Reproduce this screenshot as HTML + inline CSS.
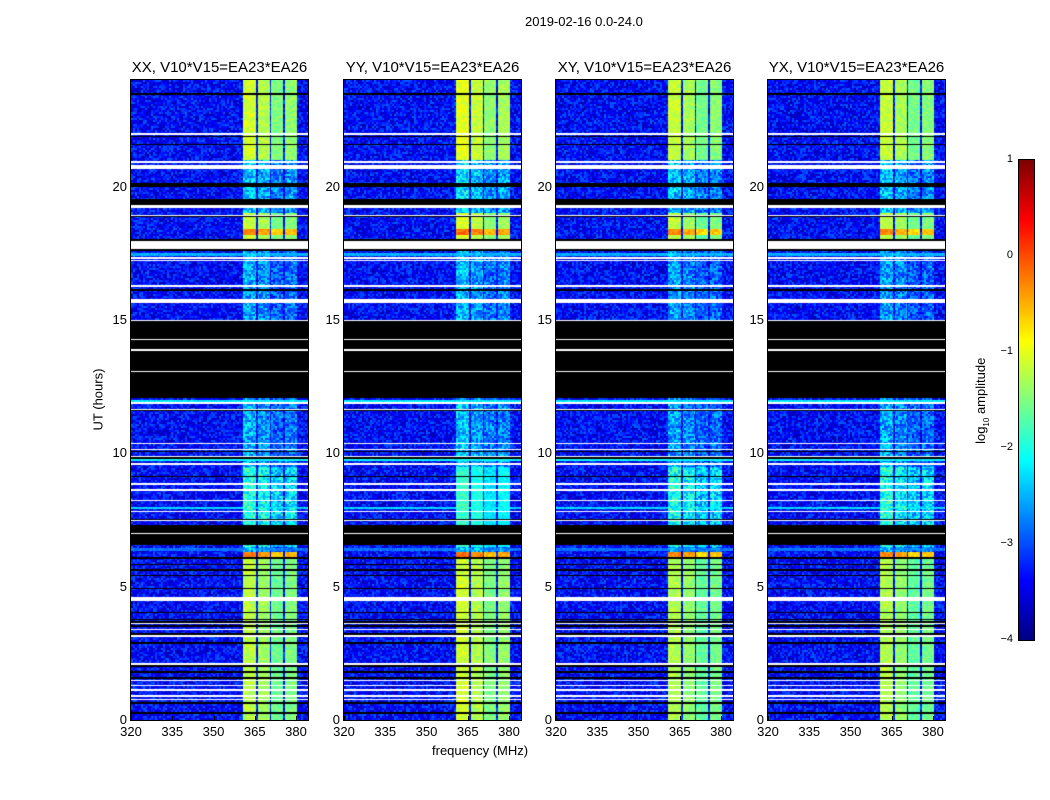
<!DOCTYPE html>
<html><head><meta charset="utf-8"><style>
body{margin:0;background:#fff;}
#root{position:relative;width:1050px;height:800px;background:#fff;font-family:"Liberation Sans","DejaVu Sans",sans-serif;color:#000;overflow:hidden}
.t{position:absolute;white-space:nowrap;}
canvas{position:absolute;}
.frame{position:absolute;border:1px solid #000;box-sizing:border-box;pointer-events:none}
</style></head><body>
<div id="root">
<div class="t" style="left:525px;top:14px;font-size:13px;">2019-02-16 0.0-24.0</div>
<div class="t" style="left:48px;top:392px;font-size:13px;transform:rotate(-90deg);transform-origin:center;width:100px;text-align:center;">UT (hours)</div>
<div class="t" style="left:432px;top:743px;font-size:13px;">frequency (MHz)</div>
<canvas id="cb" width="15" height="480" style="left:1019px;top:160px;"></canvas>
<div class="frame" style="left:1018px;top:159px;width:17px;height:482px;"></div>
<div class="t" style="left:932px;top:392px;font-size:13px;transform:rotate(-90deg);transform-origin:center;width:100px;text-align:center;">log<sub style="font-size:8px">10</sub> amplitude</div>
</div>
<script>
// ---- data ----
const panelTitles = ["XX, V10*V15=EA23*EA26","YY, V10*V15=EA23*EA26","XY, V10*V15=EA23*EA26","YX, V10*V15=EA23*EA26"];
const panelGain = [0, 0.1, -0.05, -0.05];
const xTicks = [320,335,350,365,380];
const yTicks = [0,5,10,15,20];
const cbTicks = [1,0,-1,-2,-3,-4];
const background = -3.35;
// RFI frequency bands [start, end] MHz
const bandStart = [360.7,366.1,370.9,375.9];
const bandEnd   = [365.6,370.4,375.4,380.2];
const bandRel   = [0.15,0.0,-0.25,-0.15];
// band level segments in hours
const segStart = [0, 6.1, 6.3, 6.5, 9.5, 12.0, 15.0, 17.6, 18.2, 18.4, 19.0, 21.0];
const segEnd   = [6.1, 6.3, 6.5, 9.5, 12.0, 15.0, 17.6, 18.2, 18.4, 19.0, 21.0, 24.0];
const segLevel = [-1.35, -0.4, -2.7, -2.1, -2.65, -2.8, -2.7, -1.3, -0.4, -1.3, -2.5, -1.25];
// flagged (black) intervals, hours
const blackStart = [0.22,0.6,1.55,1.75,2.0,2.85,3.2,3.5,3.65,3.75,4.0,4.5,4.9,5.4,5.6,5.8,6.05,6.55,7.5,8.6,9.1,9.55,9.8,10.05,11.6,12.07,16.1,17.6,17.95,18.85,19.3,20.0,21.55,21.85,23.45];
const blackEnd   = [0.3,0.68,1.62,1.82,2.05,2.92,3.27,3.55,3.7,3.8,4.05,4.55,4.95,5.45,5.65,5.85,6.1,7.32,7.55,8.65,9.15,9.62,9.87,10.1,11.65,15.0,16.15,17.65,18.05,18.95,19.55,20.12,21.6,21.9,23.52];
// white (no data) intervals, hours
const whiteStart = [0.75,0.88,1.1,1.28,1.45,2.05,3.12,3.38,3.6,4.45,6.98,7.45,7.8,8.2,8.6,8.82,9.58,9.85,10.12,10.35,11.62,11.85,13.05,13.85,14.25,14.95,15.65,16.25,17.2,17.3,17.65,18.9,19.2,20.65,20.9,21.95];
const whiteEnd   = [0.8,0.93,1.15,1.33,1.5,2.15,3.17,3.43,3.65,4.6,7.03,7.5,7.85,8.25,8.65,8.87,9.63,9.9,10.17,10.4,11.67,11.92,13.1,13.9,14.3,15.0,15.8,16.3,17.25,17.35,17.98,18.95,19.32,20.8,20.95,22.02];
// bright broadband rows
const bbStart = [9.72, 11.9, 6.35, 17.4, 7.9];
const bbEnd   = [9.8, 12.0, 6.45, 17.5, 8.0];
const bbLevel = [-2.1, -2.2, -2.8, -2.5, -2.3];

// ---- geometry ----
const panelLeft=[131,344,556,768], pTop=80, pW=177, pH=640;
const fMin=320, pxPerMHz=2.75;
const xScale=f=>(f-fMin)*pxPerMHz;
const yScale=h=>pH-h*pH/24;
const cbScale=v=>(1-v)*480/5;

function jet(v){
  const r=Math.min(1,Math.max(0,1.5-Math.abs(4*v-3)));
  const g=Math.min(1,Math.max(0,1.5-Math.abs(4*v-2)));
  const b=Math.min(1,Math.max(0,1.5-Math.abs(4*v-1)));
  return [r*255|0,g*255|0,b*255|0];
}
function hash(a,b,c){let h=(a*374761393+b*668265263+c*2147483647)|0;h=(h^(h>>>13))*1274126177|0;return ((h^(h>>>16))>>>0)/4294967296;}
function inIv(h,s,e){for(let i=0;i<s.length;i++)if(h>=s[i]&&h<e[i])return true;return false;}
function segAt(h){for(let i=0;i<segStart.length;i++)if(h>=segStart[i]&&h<segEnd[i])return segLevel[i];return -3;}

const root=document.getElementById('root');
panelLeft.forEach((L,p)=>{
  const c=document.createElement('canvas');
  c.width=pW;c.height=pH;c.style.left=L+'px';c.style.top=pTop+'px';
  
  
  root.appendChild(c);
  const ctx=c.getContext('2d');const img=ctx.createImageData(pW,pH);
  for(let y=0;y<pH;y++){
    const h=(pH-y-0.5)*24/pH;
    const blk=inIv(h,blackStart,blackEnd), wht=inIv(h,whiteStart,whiteEnd);
    let bb=null;for(let i=0;i<bbStart.length;i++)if(h>=bbStart[i]&&h<bbEnd[i])bb=bbLevel[i];
    const lev=segAt(h)+panelGain[p];
    for(let x=0;x<pW;x++){
      const k=(y*pW+x)*4;let col;
      if(wht)col=[255,255,255];
      else if(blk)col=[0,0,0];
      else{
        const f=fMin+(x+0.5)/pxPerMHz;
        let v=background+(hash(x>>1,y>>1,p)-0.5)*0.9;
        if(bb!==null)v=bb+(hash(x,y,p+7)-0.5)*0.4;
        for(let b=0;b<bandStart.length;b++)if(f>=bandStart[b]&&f<bandEnd[b]){
          const weak=lev<-2;
          const bl=lev+bandRel[b]+(hash(x>>1,y>>1,p+3)-0.5)*(weak?1.0:0.35);
          if(bl>v)v=bl;
        }
        col=jet(Math.min(1,Math.max(0,(v+4)/5)));
      }
      img.data[k]=col[0];img.data[k+1]=col[1];img.data[k+2]=col[2];img.data[k+3]=255;
    }
  }
  ctx.putImageData(img,0,0);
  const fr=document.createElement('div');fr.className='frame';
  
  
  fr.style.cssText=`left:${L-1}px;top:${pTop-1}px;width:${pW+2}px;height:${pH+2}px`;root.appendChild(fr);
  const t=document.createElement('div');t.className='t';t.textContent=panelTitles[p];
  
  
  t.style.cssText=`left:${L-40}px;width:${pW+80}px;text-align:center;top:59px;font-size:15px`;root.appendChild(t);
  xTicks.forEach(v=>{const d=document.createElement('div');d.className='t';d.textContent=v;
    
    
    d.style.cssText=`left:${L+xScale(v)-20}px;width:40px;text-align:center;top:724px;font-size:13px`;root.appendChild(d);
    const tk=document.createElement('div');tk.className='t';
    
    
    tk.style.cssText=`left:${L+xScale(v)}px;top:${pTop+pH-4}px;width:1px;height:4px;background:#000`;root.appendChild(tk);});
  yTicks.forEach(v=>{const d=document.createElement('div');d.className='t';d.textContent=v;
    
    
    d.style.cssText=`left:${L-44}px;width:40px;text-align:right;top:${pTop+yScale(v)-8}px;font-size:13px`;root.appendChild(d);});
});
const cb=document.getElementById('cb').getContext('2d');
for(let y=0;y<480;y++){const v=1-y*5/480;const c=jet((v+4)/5);cb.fillStyle=`rgb(${c[0]},${c[1]},${c[2]})`;cb.fillRect(0,y,15,1);}
cbTicks.forEach(v=>{const d=document.createElement('div');d.className='t';d.textContent=v<0?'\u2212'+(-v):v;
  
  
  d.style.cssText=`left:${973}px;width:40px;text-align:right;top:${160+cbScale(v)-7}px;font-size:11px`;root.appendChild(d);});
</script>
</body></html>
